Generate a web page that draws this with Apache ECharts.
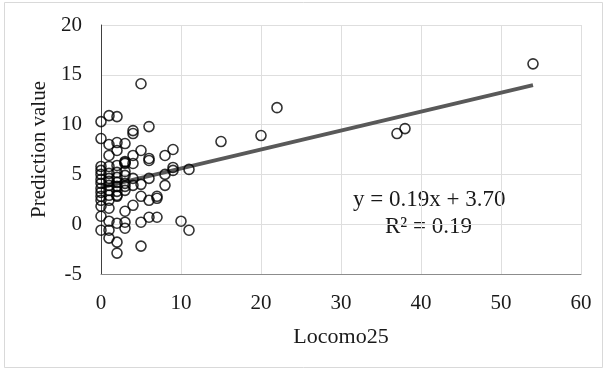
<!DOCTYPE html>
<html>
<head>
<meta charset="utf-8">
<script src="https://cdn.jsdelivr.net/npm/echarts@6/dist/echarts.min.js"></script>
<style>
  html, body { margin: 0; padding: 0; background: #fff; }
  #chart { width: 608px; height: 371px; }
</style>
</head>
<body>
<div id="chart"></div>
<script>
// Locomo25 score -> list of prediction values observed at that score
const locomoScores = [0, 1, 2, 3, 4, 5, 6, 7, 8, 9, 10, 11, 15, 20, 22, 37, 38, 54];
const predictionsByScore = [
  [10.3, 8.6, 5.8, 5.4, 5.0, 4.5, 4.1, 3.6, 3.2, 2.8, 2.4, 1.8, 0.8, -0.6],
  [10.9, 8.0, 6.9, 5.8, 5.1, 4.6, 4.3, 3.9, 3.4, 2.9, 2.4, 1.6, 0.3, -0.6, -1.4],
  [10.8, 8.2, 7.4, 5.9, 5.2, 4.7, 4.2, 3.8, 3.3, 2.9, 2.8, 0.1, -1.8, -2.9],
  [8.1, 6.3, 6.1, 6.2, 5.3, 4.9, 4.1, 3.8, 3.4, 1.3, 0.2, -0.4],
  [9.4, 9.1, 6.9, 6.1, 4.6, 3.9, 1.9],
  [14.1, 7.4, 4.0, 2.8, 0.2, -2.2],
  [9.8, 6.6, 6.4, 4.6, 2.4, 0.7],
  [2.8, 2.6, 0.7],
  [6.9, 5.0, 3.9],
  [7.5, 5.7, 5.4],
  [0.3],
  [5.5, -0.6],
  [8.3],
  [8.9],
  [11.7],
  [9.1],
  [9.6],
  [16.1]
];

// Linear fit stated on the chart
const slope = 0.19;
const intercept = 3.70;
const rSquared = 0.19;
const fitRange = [0, 54];

const xTicks = [0, 10, 20, 30, 40, 50, 60];
const yTicks = [-5, 0, 5, 10, 15, 20];

const points = [];
locomoScores.forEach((s, i) => predictionsByScore[i].forEach(v => points.push([s, v])));
const fitLine = fitRange.map(x => [x, slope * x + intercept]);

const serif = '"Liberation Serif", "Times New Roman", serif';
const textColor = '#1a1a1a';

const chart = echarts.init(document.getElementById('chart'), null, { renderer: 'canvas' });
chart.setOption({
  animation: false,
  backgroundColor: '#fff',
  grid: { left: 101, right: 27, top: 25, bottom: 97 },
  xAxis: {
    type: 'value',
    min: xTicks[0], max: xTicks[xTicks.length - 1], interval: 10,
    name: 'Locomo25', nameLocation: 'middle', nameGap: 52,
    nameTextStyle: { fontFamily: serif, fontSize: 22, color: textColor },
    axisLine: { show: true, onZero: false, lineStyle: { color: '#8c8c8c', width: 1 } },
    axisTick: { show: false },
    axisLabel: { fontFamily: serif, fontSize: 21, color: textColor, margin: 19 },
    splitLine: { show: true, lineStyle: { color: '#dedede', width: 1 } }
  },
  yAxis: {
    type: 'value',
    min: yTicks[0], max: yTicks[yTicks.length - 1], interval: 5,
    name: 'Prediction value', nameLocation: 'middle', nameGap: 50,
    nameTextStyle: { fontFamily: serif, fontSize: 21, color: textColor },
    axisLine: { show: true, onZero: false, lineStyle: { color: '#404040', width: 1 } },
    axisTick: { show: false },
    axisLabel: { fontFamily: serif, fontSize: 21, color: textColor, margin: 19 },
    splitLine: { show: true, lineStyle: { color: '#dedede', width: 1 } }
  },
  series: [
    {
      type: 'line',
      data: fitLine,
      symbol: 'none',
      lineStyle: { color: '#595959', width: 4 },
      z: 3
    },
    {
      type: 'scatter',
      data: points,
      symbol: 'circle',
      symbolSize: 10,
      itemStyle: { color: 'rgba(255,255,255,0)', borderColor: '#000', borderWidth: 1.6 },
      z: 4
    }
  ],
  graphic: [
    {
      type: 'rect',
      shape: { x: 4.5, y: 2.5, width: 598, height: 365 },
      style: { fill: 'none', stroke: '#d9d9d9', lineWidth: 1 },
      silent: true
    },
    {
      type: 'text',
      left: 353, top: 188,
      style: {
        text: 'y = ' + slope.toFixed(2) + 'x + ' + intercept.toFixed(2),
        font: '23px ' + serif, fill: textColor
      }
    },
    {
      type: 'text',
      left: 385, top: 215,
      style: {
        text: 'R² = ' + rSquared.toFixed(2),
        font: '23px ' + serif, fill: textColor
      }
    }
  ]
});
</script>
</body>
</html>
